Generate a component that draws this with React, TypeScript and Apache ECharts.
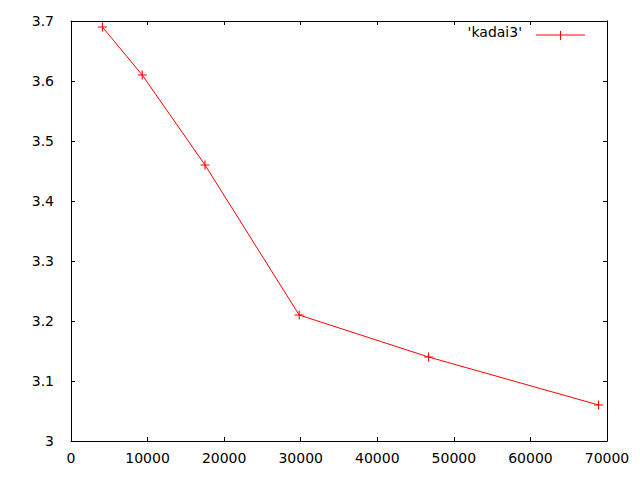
import React, { useEffect, useRef } from "react";
import * as echarts from "echarts";

const seriesName = "'kadai3'";
const xValues = [4100, 9300, 17500, 29800, 46700, 68900];
const yValues = [3.69, 3.61, 3.46, 3.21, 3.14, 3.06];

const PLUS =
  "path://M-0.6,-5H0.6V-0.6H5V0.6H0.6V5H-0.6V0.6H-5V-0.6H-0.6Z";

export default function App() {
  const ref = useRef<HTMLDivElement>(null);
  useEffect(() => {
    if (!ref.current) return;
    const chart = echarts.init(ref.current, null, { renderer: "svg" });
    const font = "DejaVu Sans";
    const tickStyle = { show: true, inside: true, length: 4, lineStyle: { color: "#000", width: 1 } };
    const lineStyle = { color: "#000", width: 1 };
    chart.setOption({
      animation: false,
      backgroundColor: "#fff",
      grid: { left: 71, right: 33, top: 21, bottom: 39, containLabel: false },
      xAxis: [
        {
          type: "value",
          min: 0,
          max: 70000,
          interval: 10000,
          axisLine: { show: true, onZero: false, lineStyle },
          axisTick: tickStyle,
          splitLine: { show: false },
          axisLabel: {
            color: "#000",
            fontFamily: font,
            fontSize: 14,
            margin: 10,
            formatter: (v: number) => String(v),
          },
        },
        {
          type: "value",
          position: "top",
          min: 0,
          max: 70000,
          interval: 10000,
          axisLine: { show: true, onZero: false, lineStyle },
          axisTick: tickStyle,
          splitLine: { show: false },
          axisLabel: { show: false },
        },
      ],
      yAxis: [
        {
          type: "value",
          min: 3,
          max: 3.7,
          interval: 0.1,
          axisLine: { show: true, onZero: false, lineStyle },
          axisTick: tickStyle,
          splitLine: { show: false },
          axisLabel: {
            color: "#000",
            fontFamily: font,
            fontSize: 14,
            margin: 17,
            formatter: (v: number) => String(Math.round(v * 10) / 10),
          },
        },
        {
          type: "value",
          position: "right",
          min: 3,
          max: 3.7,
          interval: 0.1,
          axisLine: { show: true, onZero: false, lineStyle },
          axisTick: tickStyle,
          splitLine: { show: false },
          axisLabel: { show: false },
        },
      ],
      series: [
        {
          name: seriesName,
          type: "line",
          data: xValues.map((x, i) => [x, yValues[i]]),
          symbol: PLUS,
          symbolSize: 9,
          showSymbol: true,
          lineStyle: { color: "#ff0000", width: 1 },
          itemStyle: { color: "#ff0000" },
          emphasis: { disabled: true },
        },
      ],
      graphic: [
        {
          type: "text",
          right: 640 - 522,
          top: 25,
          style: { text: seriesName, fill: "#000", font: `14px "${font}"`, textAlign: "right" },
        },
        {
          type: "line",
          shape: { x1: 536, y1: 35, x2: 585, y2: 35 },
          style: { stroke: "#ff0000", lineWidth: 1 },
        },
        {
          type: "line",
          shape: { x1: 560.5, y1: 31, x2: 560.5, y2: 40 },
          style: { stroke: "#ff0000", lineWidth: 1 },
        },
      ],
    });
    return () => chart.dispose();
  }, []);
  return <div ref={ref} style={{ width: 640, height: 480, position: "absolute", left: 0, top: 0 }} />;
}
